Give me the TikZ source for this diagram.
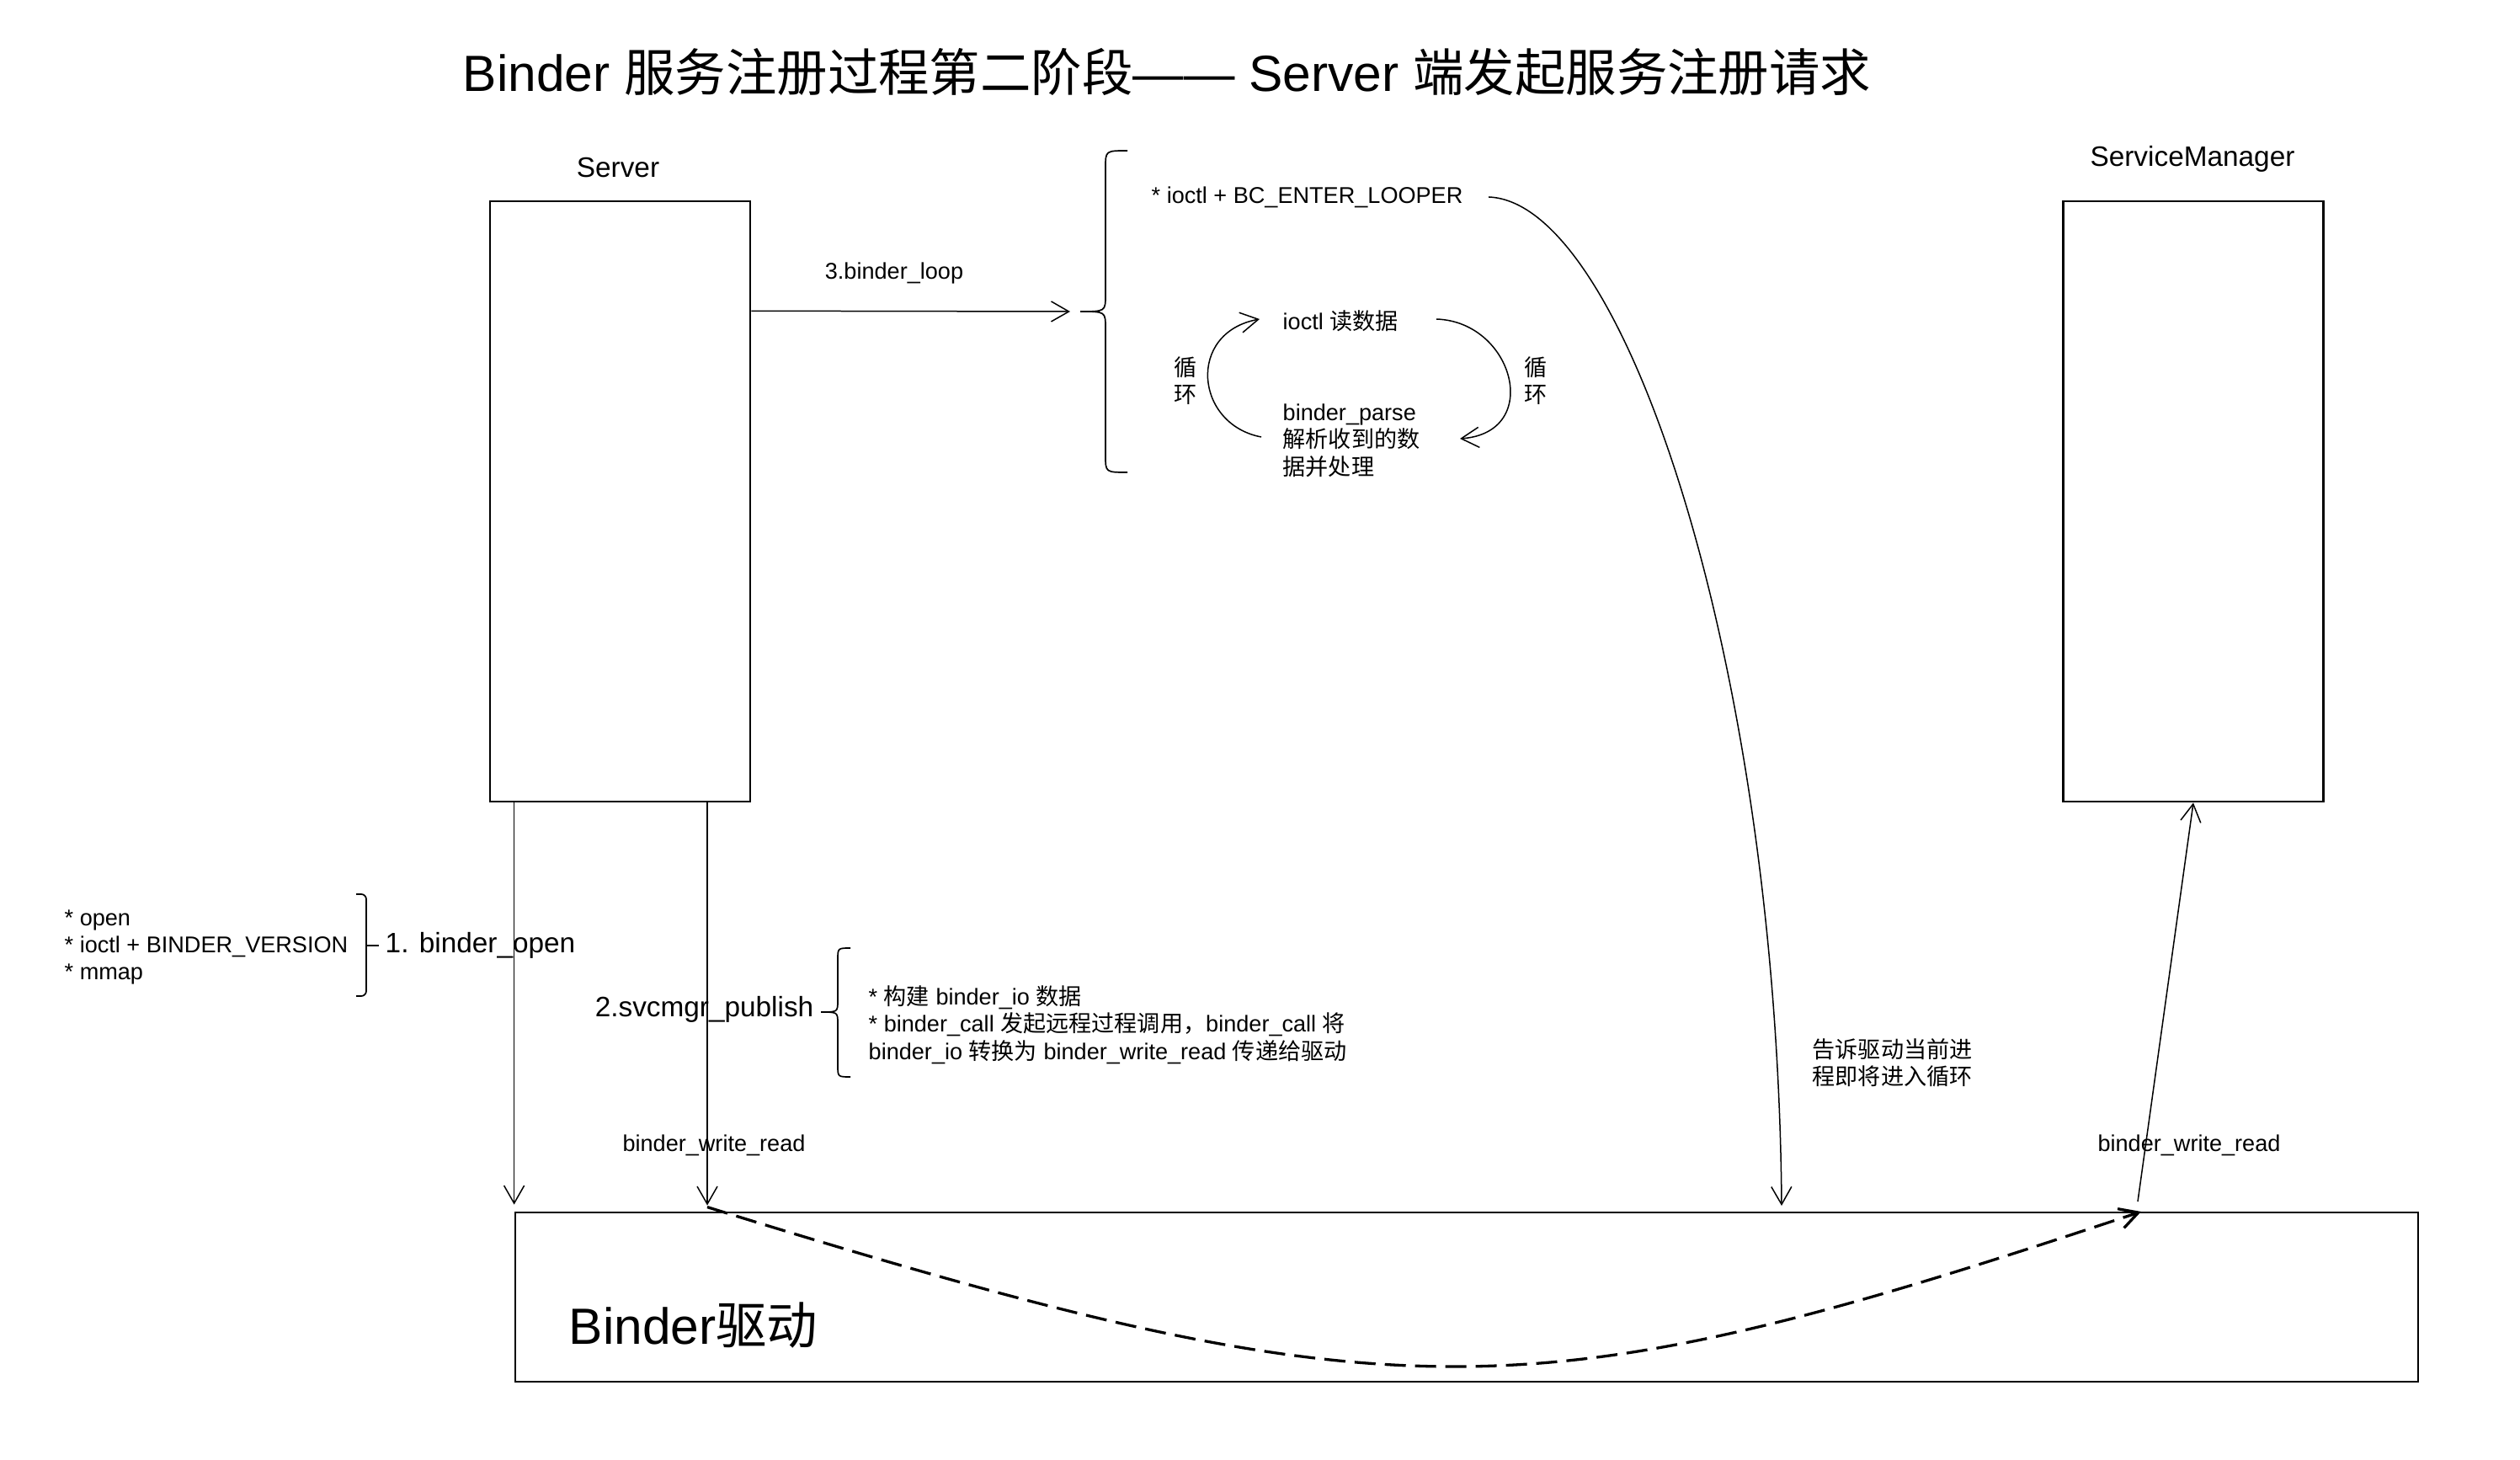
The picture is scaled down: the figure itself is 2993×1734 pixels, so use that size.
\documentclass[tikz,border=0pt]{standalone}
\usepackage{fontspec}
\setmainfont{Liberation Sans}
\newfontfamily\cjkfont{Noto Sans CJK SC}
\newcommand\zh[1]{{\cjkfont #1}}
\usetikzlibrary{arrows.meta,calc}
\begin{document}
\begin{tikzpicture}[x=0.1mm,y=-0.1mm,
  box/.style={draw, line width=0.28mm, minimum width=30.9mm, minimum height=71.3mm, inner sep=0pt},
  txs/.style={inner sep=0pt, font=\fontsize{7.71pt}{9.24pt}\selectfont, align=left},
  txm/.style={inner sep=0pt, font=\fontsize{9.49pt}{11.4pt}\selectfont},
  txl/.style={inner sep=0pt, font=\fontsize{17.2pt}{20pt}\selectfont},
  arr/.style={line width=0.15mm, -{Straight Barb[length=2.1mm,width=2.4mm]}},
  bracepath/.style={line width=0.17mm},
  dasharr/.style={line width=0.33mm, dash pattern=on 2.5mm off 1.1mm, -{Straight Barb[length=2.2mm,width=2.4mm]}},
  ]
\useasboundingbox (0,0) rectangle (2993,1734);

% title
\node[txl] (title) at (1386,86) {Binder \zh{服务注册过程第二阶段}—— Server \zh{端发起服务注册请求}};

% boxes
\node[txm] (srvlbl) at (734,199) {Server};
\node[box] (srv) at (736.5,595.5) {};
\node[txm] (smlbl) at (2604,189) {ServiceManager};
\node[box] (sm) at (2605,595.5) {};
\node[draw, line width=0.28mm, minimum width=226mm, minimum height=20.1mm, inner sep=0pt] (drv) at (1742,1540.5) {};
\node[txl, anchor=west] (drvlbl) at (675,1574) {Binder\zh{驱动}};

% binder_open
\node[txs, anchor=west] (opens) at (76,1125) {* open\\* ioctl + BINDER\_VERSION\\* mmap};
\draw[bracepath, rounded corners=0.6mm] (423,1062) -- (435,1062) -- (435,1183) -- (423,1183);
\draw[bracepath] (435,1123) -- (450,1123);
\node[txm, anchor=west] (bopen) at (457,1123) {1. binder\_open};

% svcmgr_publish
\node[txm, anchor=east] (pub) at (967,1199) {2.svcmgr\_publish};
\draw[bracepath] (1010,1126) .. controls (995,1126) .. (995,1140) -- (995,1188) .. controls (995,1202) .. (975,1202) .. controls (995,1202) .. (995,1216) -- (995,1265) .. controls (995,1279) .. (1010,1279);
\node[txs, anchor=west] (pubtxt) at (1031,1217) {* \zh{构建} binder\_io \zh{数据}\\* binder\_call \zh{发起远程过程调用，}binder\_call \zh{将}\\binder\_io \zh{转换为} binder\_write\_read \zh{传递给驱动}};

% binder_loop
\node[txs] (looplbl) at (1062,325) {3.binder\_loop};
\coordinate (btip) at (1283,370);
\coordinate (aend) at (1271,370);
\draw[arr] ($(srv.north east)!0.184!(srv.south east)$) -- (aend);
\draw[bracepath] (1339,179) .. controls (1313,179) .. (1313,199) -- (1313,350) .. controls (1313,370) .. (btip) .. controls (1313,370) .. (1313,390) -- (1313,541) .. controls (1313,561) .. (1339,561);

\node[txs, anchor=west] (looper) at (1367,234) {* ioctl + BC\_ENTER\_LOOPER};
\coordinate (lpend) at (2116,1432);
\draw[arr] ([xshift=3mm]looper.east) .. controls (1930,240) and (2111,791) .. (lpend);

% loop
\node[txs, anchor=west] (rd) at (1523,381) {ioctl \zh{读数据}};
\node[txs, anchor=west] (parse) at (1523,523) {binder\_parse\\\zh{解析收到的数}\\\zh{据并处理}};
\coordinate (la0) at (1498,519);
\coordinate (la1) at (1496,379);
\coordinate (ra0) at (1706,379);
\coordinate (ra1) at (1734,521);
\draw[arr] (la0) .. controls (1419,504) and (1409,395) .. (la1);
\draw[arr] (ra0) .. controls (1798,382) and (1833,514) .. (ra1);
\node[txs, align=center] (xh1) at (1408,452) {\zh{循}\\\zh{环}};
\node[txs, align=center] (xh2) at (1824,452) {\zh{循}\\\zh{环}};

% tell driver
\node[txs, anchor=west] (tell) at (2152,1262) {\zh{告诉驱动当前进}\\\zh{程即将进入循环}};

% write_read labels
\node[txs] (bwr1) at (848,1360) {binder\_write\_read};
\node[txs] (bwr2) at (2600,1360) {binder\_write\_read};

% vertical arrows
\draw[arr] (srv.south -| drv.west) -- ([yshift=0.8mm]drv.north west);
\coordinate (a2top) at ($(srv.south west)!0.832!(srv.south east)$);
\coordinate (a2b) at (a2top |- drv.north);
\draw[arr] (a2top) -- ([yshift=0.7mm]a2b);

% dashed transfer
\coordinate (dtip) at (2543,1439);
\draw[dasharr] ([yshift=0.5mm]a2b) .. controls (1663,1689) and (1818,1681) .. (dtip);
\coordinate (utail) at (2539,1427);
\draw[arr] (utail) -- (sm.south);
\end{tikzpicture}
\end{document}
